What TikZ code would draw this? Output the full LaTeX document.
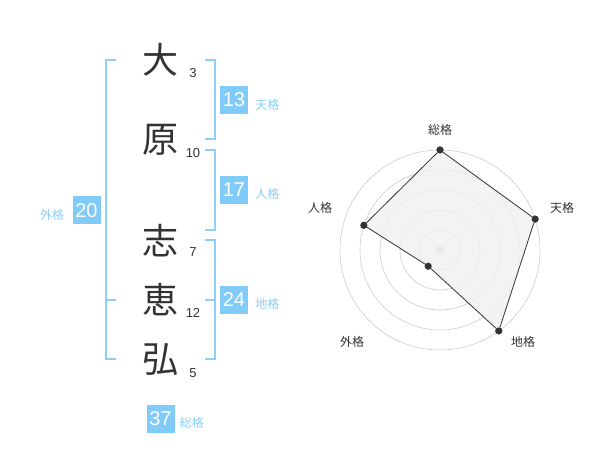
\documentclass[tikz,border=0pt]{standalone}
\usepackage{fontspec}
\setmainfont{Liberation Sans}
\newfontfamily\jp{Noto Sans CJK JP}
\usetikzlibrary{positioning}
\usetikzlibrary{calc}
\definecolor{boxblue}{RGB}{128,203,248}
\definecolor{lineblue}{RGB}{140,208,251}
\definecolor{labelblue}{RGB}{140,205,245}
\definecolor{textgray}{RGB}{51,51,51}
\definecolor{ringgray}{RGB}{204,204,204}
\definecolor{polyfill}{RGB}{240,240,240}

\begin{document}
\begin{tikzpicture}
    [x=1pt, y=-1pt,
    kanji/.style={font=\jp\fontsize{36}{36}\selectfont, text=textgray, inner sep=0pt},
    strokes/.style={font=\fontsize{13}{13}\selectfont, text=textgray, inner sep=0pt},
    score/.style={fill=boxblue, text=white, font=\fontsize{20}{20}\selectfont, minimum size=28pt, inner sep=0pt},
    kaku/.style={font=\jp\fontsize{12}{12}\selectfont, text=labelblue, inner sep=0pt},
    bracket/.style={draw=lineblue, line width=2pt},
    axis/.style={font=\jp\fontsize{12}{12}\selectfont, text=textgray, inner sep=0pt},
    ring/.style={draw=ringgray, line width=0.6pt},
    vertex/.style={circle, fill=textgray, inner sep=0pt, minimum size=7pt}]
    \useasboundingbox (0,0) rectangle (600,470);
    % name
    \node[kanji] (k1) at (160, 60)  {大};
    \node[kanji] (k2) at (160, 140) {原};
    \node[kanji] (k3) at (160, 241) {志};
    \node[kanji] (k4) at (160, 300) {恵};
    \node[kanji] (k5) at (160, 360) {弘};
    \node[strokes] (s1) at (193, 73)  {3};
    \node[strokes] (s2) at (193, 153) {10};
    \node[strokes] (s3) at (193, 252) {7};
    \node[strokes] (s4) at (193, 313) {12};
    \node[strokes] (s5) at (193, 373) {5};
    % brackets
    \draw[bracket] (116, 60) -- (106, 60) -- (106, 359) -- (116, 359);
    \draw[bracket] (106, 300) -- (116, 300);
    \draw[bracket] (205, 60) -- (215, 60) -- (215, 139) -- (205, 139);
    \draw[bracket] (205, 150) -- (215, 150) -- (215, 230) -- (205, 230);
    \draw[bracket] (205, 240) -- (215, 240) -- (215, 359) -- (205, 359);
    \draw[bracket] (205, 300) -- (215, 300);
    % scores
    \node[score] (ten) at (234, 100)   {13};
    \node[score] (jin) at (234, 190)   {17};
    \node[score] (chi) at (234, 300)   {24};
    \node[score] (gai) at (86.5, 210.5) {20};
    \node[score] (sou) at (160.5, 419) {37};
    \node[kaku, right=7pt of ten, yshift=-5pt] (tenl) {天格};
    \node[kaku, right=7pt of jin, yshift=-4pt] (jinl) {人格};
    \node[kaku, right=7pt of chi, yshift=-4pt] (chil) {地格};
    \node[kaku, left=8pt of gai, yshift=-4pt]  (gail) {外格};
    \node[kaku, right=5pt of sou, yshift=-4pt] (soul) {総格};
    % radar
    \coordinate (c) at (440, 250);
    \foreach \r in {20, 40, 60, 80, 100}
        \draw[ring] (c) circle (\r);
    \fill[ringgray] (c) circle (4);
    \node[vertex] (vsou) at ($(c)+(270:100)$) {};
    \node[vertex] (vten) at ($(c)+(342:100)$) {};
    \node[vertex] (vchi) at ($(c)+(54:100)$)  {};
    \node[vertex] (vgai) at ($(c)+(126:20)$)  {};
    \node[vertex] (vjin) at ($(c)+(198:80)$)  {};
    \fill[polyfill, fill opacity=0.8] (vsou.center) -- (vten.center) -- (vchi.center) -- (vgai.center) -- (vjin.center) -- cycle;
    \draw[textgray, line width=0.8pt] (vsou) -- (vten) -- (vchi) -- (vgai) -- (vjin) -- (vsou);
    \node[vertex] at (vsou) {};
    \node[vertex] at (vten) {};
    \node[vertex] at (vchi) {};
    \node[vertex] at (vgai) {};
    \node[vertex] at (vjin) {};
    \node[axis] (asou) at (440, 130) {総格};
    \node[axis] (aten) at (562, 208) {天格};
    \node[axis] (achi) at (523, 342) {地格};
    \node[axis] (agai) at (352, 342) {外格};
    \node[axis] (ajin) at (320, 208) {人格};
\end{tikzpicture}
\end{document}
